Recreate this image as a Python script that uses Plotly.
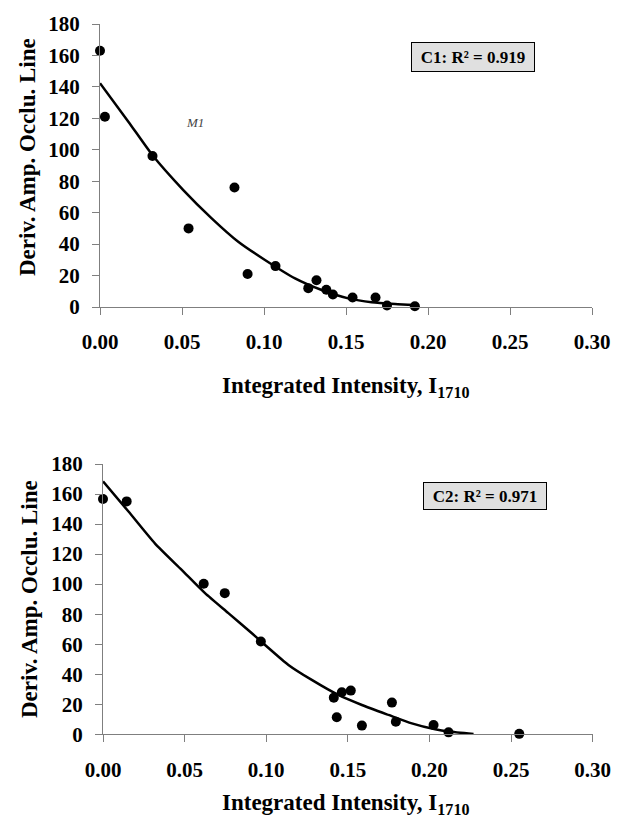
import plotly.graph_objects as go

# ---------------- data ----------------
c1_x = [0.000, 0.003, 0.032, 0.054, 0.082, 0.090, 0.107, 0.127, 0.132, 0.138, 0.142, 0.154, 0.168, 0.175, 0.192]
c1_y = [163, 121, 96, 50, 76, 21, 26, 12, 17, 11, 8, 6, 6, 1, 0.5]
c1_fit_x = [0.0, 0.0173, 0.0319, 0.0508, 0.0681, 0.0843, 0.1006, 0.1189, 0.1352, 0.1514, 0.1656, 0.1799, 0.1921]
c1_fit_y = [142.3, 117.9, 96.7, 74.4, 56.4, 41.5, 29.9, 18.2, 10.8, 5.5, 3.0, 1.9, 1.3]

c2_x = [0.000, 0.0145, 0.0617, 0.0746, 0.0967, 0.1414, 0.1432, 0.1463, 0.1518, 0.1586, 0.177, 0.1794, 0.2025, 0.2117, 0.255]
c2_y = [156.7, 155.1, 100.2, 94.0, 61.8, 24.4, 11.3, 28.0, 29.1, 5.8, 21.1, 8.4, 6.2, 1.3, 0.3]
c2_fit_x = [0.0, 0.0155, 0.0319, 0.0482, 0.0625, 0.0768, 0.0912, 0.0993, 0.1136, 0.1279, 0.1442, 0.1586, 0.1749, 0.1892, 0.2035, 0.2117, 0.227]
c2_fit_y = [168.4, 148.5, 127.0, 109.5, 94.0, 80.7, 67.3, 59.5, 46.2, 36.2, 26.2, 19.5, 12.9, 7.3, 3.3, 1.8, 0.2]

x_ticks = [0.00, 0.05, 0.10, 0.15, 0.20, 0.25, 0.30]
y_ticks = [0, 20, 40, 60, 80, 100, 120, 140, 160, 180]

label_c1 = "C1: R² = 0.919"
label_c2 = "C2: R² = 0.971"
label_m1 = "M1"
x_title = "Integrated Intensity, I<sub>1710</sub>"
y_title = "Deriv. Amp. Occlu. Line"

# ---------------- layout helpers ----------------
OFF = 8  # page body margin in the browser
W, H = 626 - OFF, 823 - OFF
FONT = "Liberation Serif, Times New Roman, serif"


def px_x(p):
    return (p - OFF) / W


def px_y(p):
    return 1 - (p - OFF) / H


fig = go.Figure()

for xs, ys, fx, fy, ax in [
    (c1_x, c1_y, c1_fit_x, c1_fit_y, ""),
    (c2_x, c2_y, c2_fit_x, c2_fit_y, "2"),
]:
    fig.add_trace(go.Scatter(x=fx, y=fy, mode="lines", line=dict(color="black", width=2.5, shape="spline", smoothing=0.6),
                             xaxis="x" + ax, yaxis="y" + ax, cliponaxis=False, showlegend=False,
                             hoverinfo="skip"))
    fig.add_trace(go.Scatter(x=xs, y=ys, mode="markers", marker=dict(color="black", size=10),
                             xaxis="x" + ax, yaxis="y" + ax, cliponaxis=False, showlegend=False))

axis_common = dict(showgrid=False, zeroline=False, showline=True, linecolor="#7f7f7f", linewidth=1.2,
                   ticks="outside", ticklen=7, tickcolor="#7f7f7f", tickwidth=1.2, automargin=False,
                   tickfont=dict(family=FONT, size=21, color="black", weight="bold"))

xcommon = dict(axis_common, range=[0, 0.3], tickvals=x_ticks, tickformat=".2f", ticklabelstandoff=9)
ycommon = dict(axis_common, range=[0, 180], tickvals=y_ticks, ticklabelstandoff=8)

fig.update_layout(
    width=W, height=H,
    margin=dict(l=0, r=0, t=0, b=0),
    paper_bgcolor="white", plot_bgcolor="white",
    xaxis=dict(xcommon, domain=[px_x(100), px_x(592)], anchor="y"),
    yaxis=dict(ycommon, domain=[px_y(307), px_y(24)], anchor="x"),
    xaxis2=dict(xcommon, domain=[px_x(103), px_x(592.7)], anchor="y2"),
    yaxis2=dict(ycommon, domain=[px_y(734.3), px_y(464)], anchor="x2"),
)

xt_font = dict(family=FONT, size=23, color="black", weight="bold")
yt_font = dict(family=FONT, size=23, color="black", weight="bold")
annotations = [
    dict(text=x_title, x=px_x(346), y=px_y(387), xref="paper", yref="paper", showarrow=False,
         font=xt_font, xanchor="center", yanchor="middle"),
    dict(text=x_title, x=px_x(346), y=px_y(804), xref="paper", yref="paper", showarrow=False,
         font=xt_font, xanchor="center", yanchor="middle"),
    dict(text=y_title, x=px_x(27), y=px_y(157), xref="paper", yref="paper", showarrow=False,
         font=yt_font, textangle=-90, xanchor="center", yanchor="middle"),
    dict(text=y_title, x=px_x(29), y=px_y(599), xref="paper", yref="paper", showarrow=False,
         font=yt_font, textangle=-90, xanchor="center", yanchor="middle"),
    dict(text=label_c1, x=px_x(473), y=px_y(57), xref="paper", yref="paper", showarrow=False,
         font=dict(family=FONT, size=17, color="black", weight="bold"),
         bgcolor="#e0e0e0", bordercolor="black", borderwidth=1, borderpad=3,
         width=116, height=22, xanchor="center", yanchor="middle"),
    dict(text=label_c2, x=px_x(485), y=px_y(496), xref="paper", yref="paper", showarrow=False,
         font=dict(family=FONT, size=17, color="black", weight="bold"),
         bgcolor="#e0e0e0", bordercolor="black", borderwidth=1, borderpad=3,
         width=116, height=20, xanchor="center", yanchor="middle"),
    dict(text=label_m1, x=px_x(195), y=px_y(123), xref="paper", yref="paper", showarrow=False,
         font=dict(family=FONT, size=13, color="#444444", style="italic"),
         xanchor="center", yanchor="middle"),
]
fig.update_layout(annotations=annotations)

fig.write_html("out.html")
